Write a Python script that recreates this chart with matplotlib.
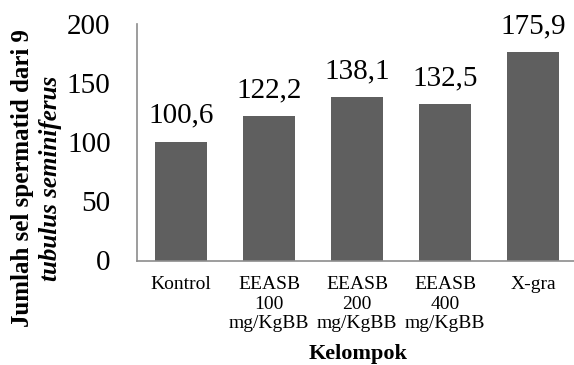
import matplotlib
matplotlib.use('Agg')
import matplotlib.pyplot as plt

groups = ['Kontrol', 'EEASB\n100\nmg/KgBB', 'EEASB\n200\nmg/KgBB', 'EEASB\n400\nmg/KgBB', 'X-gra']
values = [100.6, 122.2, 138.1, 132.5, 175.9]
labels = ['100,6', '122,2', '138,1', '132,5', '175,9']
yticks = [0, 50, 100, 150, 200]

plt.rcParams['font.family'] = ['Liberation Serif', 'DejaVu Serif']

W, H = 574, 365
fig = plt.figure(figsize=(W / 100, H / 100), dpi=100)
ax = fig.add_axes([137 / W, 1 - 260.5 / H, 440 / W, 236.5 / H])

x = range(len(groups))
ax.bar(x, values, width=0.58, color='#5f5f5f', zorder=2)
for xi, v, lab in zip(x, values, labels):
    ax.annotate(lab, (xi, v), xytext=(0, 13.5), textcoords='offset points',
                ha='center', va='baseline', fontsize=21, color='black')

ax.set_xlim(-0.5, 4.5)
ax.set_ylim(0, 200)
ax.set_yticks(yticks)
ax.set_yticklabels([str(t) for t in yticks], fontsize=21)
ax.set_xticks(list(x))
ax.set_xticklabels(groups, fontsize=14, linespacing=1.22)
ax.tick_params(axis='y', length=0, pad=19)
ax.tick_params(axis='x', length=0, pad=11)

for s in ['top', 'right']:
    ax.spines[s].set_visible(False)
ax.spines['left'].set_color('#8c8c8c')
ax.spines['bottom'].set_color('#8c8c8c')
ax.spines['left'].set_linewidth(1.2)
ax.spines['bottom'].set_linewidth(1.2)

fig.text(358 / W, 1 - 359 / H, 'Kelompok', ha='center', va='baseline',
         fontsize=16, fontweight='bold')
fig.text(23 / W, 1 - 178 / H, 'Jumlah sel spermatid dari 9', rotation=90,
         ha='center', va='center', fontsize=18, fontweight='bold')
fig.text(51 / W, 1 - 178 / H, 'tubulus seminiferus', rotation=90,
         ha='center', va='center', fontsize=18, fontweight='bold', fontstyle='italic')

fig.savefig('out.png', dpi=100)
